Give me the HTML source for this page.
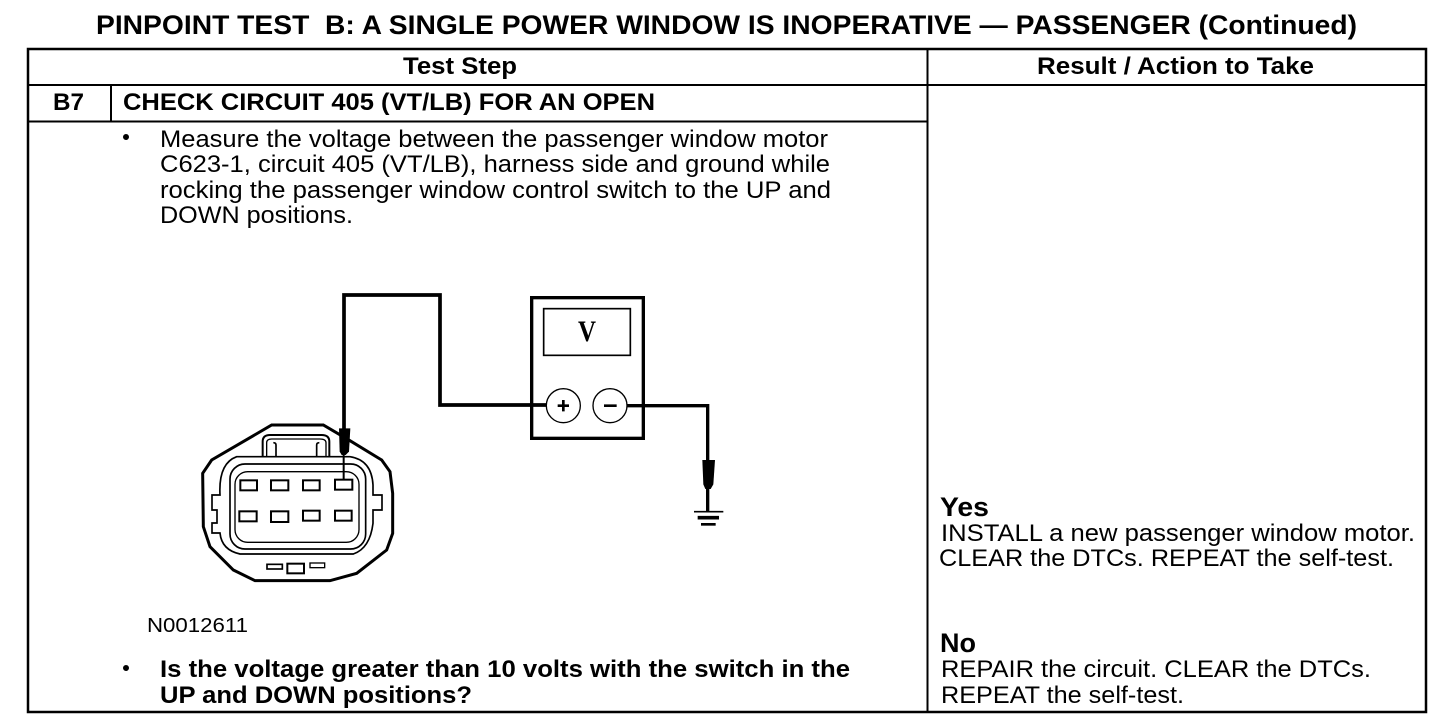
<!DOCTYPE html>
<html><head><meta charset="utf-8"><style>
html,body{margin:0;padding:0;background:#fff;width:1456px;height:728px;overflow:hidden}
svg{display:block}
text{font-family:"Liberation Sans",sans-serif;fill:#000;font-size:24px}
.b{font-weight:bold}
</style></head><body>
<svg width="1456" height="728" viewBox="0 0 1456 728" xmlns="http://www.w3.org/2000/svg">
<rect width="1456" height="728" fill="#fff"/>
<text class="b" x="96" y="34" style="font-size:27px" textLength="1261" lengthAdjust="spacingAndGlyphs">PINPOINT TEST&#160; B: A SINGLE POWER WINDOW IS INOPERATIVE — PASSENGER (Continued)</text>
<g stroke="#000" fill="none">
<rect x="28" y="49" width="1398" height="663" stroke-width="2.5"/>
<path d="M28 85H1426M28 121.5H927M111 85V121.5M927.5 49V712" stroke-width="2"/>
</g>
<text class="b" x="403" y="74" textLength="114" lengthAdjust="spacingAndGlyphs">Test Step</text>
<text class="b" x="1037" y="74" textLength="277" lengthAdjust="spacingAndGlyphs">Result / Action to Take</text>
<text class="b" x="53" y="110" textLength="31" lengthAdjust="spacingAndGlyphs">B7</text>
<text class="b" x="123" y="110" textLength="532" lengthAdjust="spacingAndGlyphs">CHECK CIRCUIT 405 (VT/LB) FOR AN OPEN</text>
<circle cx="126" cy="137" r="3" fill="#000"/>
<text x="160" y="147" textLength="668" lengthAdjust="spacingAndGlyphs">Measure the voltage between the passenger window motor</text>
<text x="160" y="172" textLength="670" lengthAdjust="spacingAndGlyphs">C623-1, circuit 405 (VT/LB), harness side and ground while</text>
<text x="160" y="198" textLength="671" lengthAdjust="spacingAndGlyphs">rocking the passenger window control switch to the UP and</text>
<text x="160" y="223" textLength="193" lengthAdjust="spacingAndGlyphs">DOWN positions.</text>
<text x="147" y="632" style="font-size:20px" textLength="101" lengthAdjust="spacingAndGlyphs">N0012611</text>
<circle cx="126" cy="668" r="3" fill="#000"/>
<text class="b" x="160" y="677" textLength="690" lengthAdjust="spacingAndGlyphs">Is the voltage greater than 10 volts with the switch in the</text>
<text class="b" x="160" y="703" textLength="312" lengthAdjust="spacingAndGlyphs">UP and DOWN positions?</text>
<text class="b" x="940" y="516" style="font-size:27px" textLength="49" lengthAdjust="spacingAndGlyphs">Yes</text>
<text x="941" y="541" textLength="474" lengthAdjust="spacingAndGlyphs">INSTALL a new passenger window motor.</text>
<text x="939" y="566" textLength="455" lengthAdjust="spacingAndGlyphs">CLEAR the DTCs. REPEAT the self-test.</text>
<text class="b" x="940" y="652" style="font-size:27px" textLength="36" lengthAdjust="spacingAndGlyphs">No</text>
<text x="941" y="677" textLength="430" lengthAdjust="spacingAndGlyphs">REPAIR the circuit. CLEAR the DTCs.</text>
<text x="941" y="703" textLength="243" lengthAdjust="spacingAndGlyphs">REPEAT the self-test.</text>

<!-- connector -->
<g transform="translate(190,410) scale(.33333)" fill="none" stroke="#000">
<path d="M245 45H400L480 92L575 150L600 185L608 250V370L590 420L500 490L420 512H195L130 480L60 410L40 350L38 190L65 150Z" stroke-width="9" fill="#fff"/>
<path d="M218 138V95Q218 75 240 75H395Q418 75 418 95V138" stroke-width="6"/>
<path d="M230 138V98Q230 87 245 87H390Q408 87 408 98V138" stroke-width="4"/>
<path d="M258 138V105Q258 98 250 98M380 138V105Q380 98 388 98" stroke-width="5"/>
<path d="M140 140H480Q545 150 549 225V255H576V300H549V340Q540 415 490 432H150Q95 420 90 369H66V339H81V300H66V255H90Q85 160 140 140Z" stroke-width="5" fill="#fff"/>
<rect x="120" y="162" width="407" height="255" rx="45" stroke-width="5"/>
<rect x="135" y="185" width="372" height="212" rx="38" stroke-width="4"/>
<g stroke-width="6" fill="#fff">
<rect x="151" y="211" width="50" height="30"/>
<rect x="243" y="211" width="52" height="30"/>
<rect x="339" y="211" width="50" height="30"/>
<rect x="435" y="209" width="52" height="30"/>
<rect x="148" y="304" width="52" height="30"/>
<rect x="243" y="304" width="52" height="32"/>
<rect x="339" y="302" width="50" height="30"/>
<rect x="435" y="302" width="50" height="30"/>
</g>
<rect x="231" y="463" width="46" height="14" stroke-width="5"/>
<rect x="292" y="461" width="50" height="29" stroke-width="6"/>
<rect x="360" y="459" width="44" height="14" stroke-width="4"/>
<path d="M461 100V208" stroke-width="6"/>
<path d="M447 55H481L477 125L467 135H455L449 125Z" fill="#000" stroke="none"/>
</g>

<!-- wire -->
<path d="M344 432V295H440V405H546" fill="none" stroke="#000" stroke-width="3.7"/>

<!-- meter -->
<g transform="translate(520,285) scale(.33333)" fill="none" stroke="#000">
<rect x="35" y="38" width="335" height="422" stroke-width="10"/>
<rect x="71" y="71" width="260" height="140" stroke-width="5"/>
<circle cx="130" cy="362" r="51" stroke-width="4"/>
<circle cx="270" cy="362" r="51" stroke-width="4"/>
<path d="M322 362H563V680" stroke-width="10"/>
<path d="M113 362H147M130 345V379M252 362H290" stroke-width="8"/>
<path d="M547 525H585L580 598L572 612H556L550 598Z" fill="#000" stroke="none"/>
<path d="M522 680H610" stroke-width="5"/>
<path d="M533 698H597" stroke-width="11"/>
<path d="M543 718H587" stroke-width="8"/>
</g>
<text x="578" y="341" style="font-size:30px;font-family:'Liberation Serif',serif;font-weight:bold" textLength="18" lengthAdjust="spacingAndGlyphs">V</text>
</svg>
</body></html>
